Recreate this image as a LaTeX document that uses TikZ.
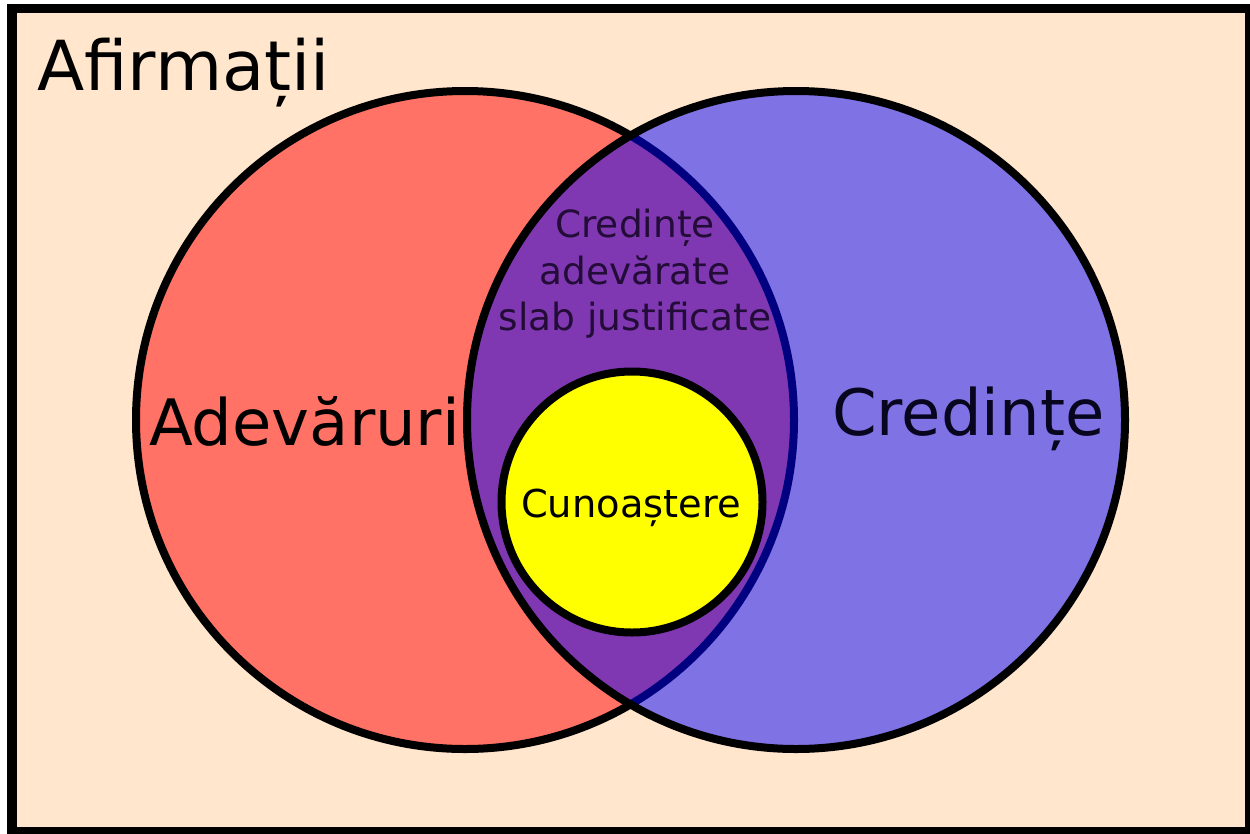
\documentclass[tikz,border=0pt]{standalone}
\usepackage{fontspec}
\setmainfont{DejaVu Sans}
\definecolor{peach}{RGB}{255,230,204}
\definecolor{textpurple}{RGB}{35,12,55}
\definecolor{textnavy}{RGB}{8,6,30}
\definecolor{setred}{RGB}{255,0,0}
\definecolor{setblue}{RGB}{0,0,255}
\definecolor{setyellow}{RGB}{255,255,0}
\begin{document}
\begin{tikzpicture}[x=1pt,y=-1pt,
  frame/.style={draw=black,line width=9.5pt,fill=peach},
  setcircle/.style={draw=black,line width=8pt},
  titletext/.style={font=\fontsize{69}{80}\selectfont,inner sep=0pt},
  bigtext/.style={font=\fontsize{64}{77}\selectfont,inner sep=0pt},
  midtext/.style={font=\fontsize{37.5}{46.5}\selectfont,inner sep=0pt,align=center},
  smalltext/.style={font=\fontsize{38.4}{46}\selectfont,inner sep=0pt}]
\useasboundingbox (0,0) rectangle (1250,833);
\begin{scope}
\clip (0,0) rectangle (1250,833);
\draw[frame] (12,8.5) rectangle (1249.5,831.5);
\end{scope}
% coordinates
\coordinate (cred) at (465,420);
\coordinate (cbel) at (796,420);
\coordinate (cyel) at (632,502);
% circles
\draw[setcircle,fill=setred,fill opacity=0.5,draw opacity=1] (cred) circle[radius=329pt];
\draw[setcircle,fill=setblue,fill opacity=0.5,draw opacity=1] (cbel) circle[radius=329pt];
\draw[setcircle,fill=setyellow] (cyel) circle[radius=130.5pt];
% texts
\node[titletext,anchor=base west] (afirm) at (37,90) {Afirmații};
\node[bigtext,anchor=base west] (adev) at (149,445) {Adevăruri};
\node[bigtext,anchor=base west,text=textnavy] (credin) at (832,435) {Credințe};
\node[midtext,text=textpurple] (slab) at (635,274) {Credințe\\adevărate\\slab justificate};
\node[smalltext,anchor=base] (cunoa) at (631,517) {Cunoaștere};
\end{tikzpicture}
\end{document}
